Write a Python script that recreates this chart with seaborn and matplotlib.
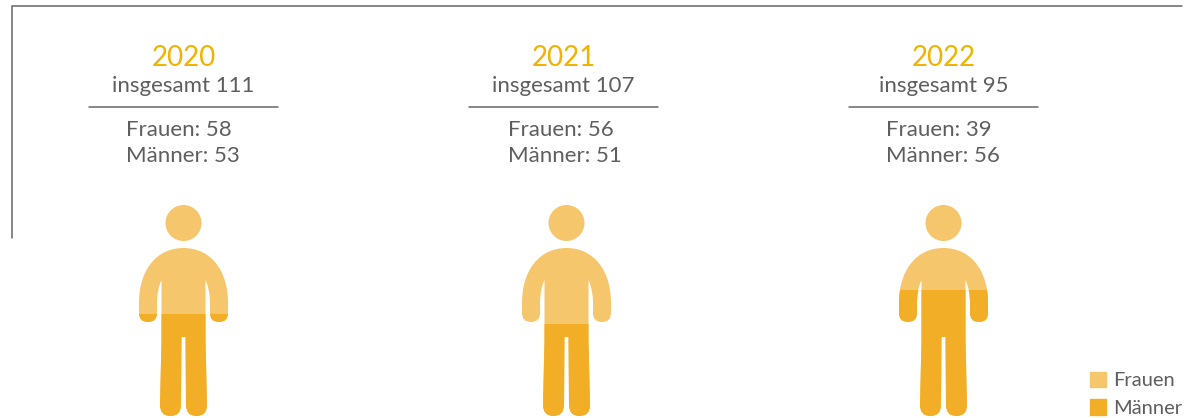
import matplotlib
matplotlib.use("Agg")
import matplotlib.pyplot as plt
from matplotlib.path import Path
from matplotlib.patches import Patch
import pandas as pd
import seaborn as sns

years = ["2020", "2021", "2022"]
totals = [111, 107, 95]
women = [58, 56, 39]
men = [53, 51, 56]
# height of the darker fill (% of figure height)
men_fill_pct = [48.3, 43.6, 59.7]
full_pct = [100, 100, 100]

centers = [183.5, 566.5, 943.5]
text_centers = [183.5, 563.5, 943.5]
text_lefts = [126, 508, 886]
W, H = 1198, 418
TOP, BOTTOM = 205, 416
C_F, C_M, C_Y, C_T, C_L = "#F5C66B", "#F3AE27", "#F2B200", "#5E5E5E", "#666666"

sns.set_theme(style="white")
plt.rcParams["font.family"] = ["Lato", "DejaVu Sans"]

fig = plt.figure(figsize=(W / 100, H / 100), dpi=100, facecolor="white")
bg = fig.add_axes([0, 0, 1, 1])
bg.set_xlim(0, W)
bg.set_ylim(H, 0)
bg.axis("off")


def person(cx):
    half = [
        (Path.MOVETO, (0, 248)),
        (Path.CURVE4, (-27, 248)), (Path.CURVE4, (-44.5, 270)), (Path.CURVE4, (-44.5, 303)),
        (Path.LINETO, (-44.5, 313)),
        (Path.CURVE3, (-44.5, 322)), (Path.CURVE3, (-35.5, 322)),
        (Path.CURVE3, (-26.5, 322)), (Path.CURVE3, (-26.5, 313)),
        (Path.LINETO, (-26.5, 303)),
        (Path.CURVE3, (-26.5, 290)), (Path.CURVE3, (-22, 280)),
        (Path.LINETO, (-22, 340)),
        (Path.LINETO, (-23.5, 405)),
        (Path.CURVE3, (-23.5, 416)), (Path.CURVE3, (-13, 416)),
        (Path.CURVE3, (-2.5, 416)), (Path.CURVE3, (-2.5, 405)),
        (Path.LINETO, (-2, 337)),
        (Path.LINETO, (0, 337)),
    ]
    codes = [c for c, _ in half]
    verts = [(cx + p[0], p[1]) for _, p in half]
    rev = half[::-1]
    for i in range(1, len(rev)):
        code = half[len(half) - i][0]
        codes.append(code)
        verts.append((cx - rev[i][1][0], rev[i][1][1]))
    codes.append(Path.CLOSEPOLY)
    verts.append((cx, 248))
    head = Path.circle((cx, 223), 18)
    return Path.make_compound_path(Path(verts, codes), head)


bg.plot([12, 12, 1182], [238, 6, 6], color=C_L, lw=1.1, solid_joinstyle="miter")

df = pd.DataFrame({"Jahr": years, "Gesamt": full_pct, "Maenner": men_fill_pct})

for i, year in enumerate(years):
    tc, tl = text_centers[i], text_lefts[i]
    bg.text(tc, 66, year, color=C_Y, fontsize=20, ha="center", va="baseline")
    bg.text(tc, 92, f"insgesamt {totals[i]}", color=C_T, fontsize=16, ha="center", va="baseline")
    bg.plot([tc - 94.5, tc + 94.5], [107, 107], color=C_L, lw=1.1)
    bg.text(tl, 136, f"Frauen: {women[i]}", color=C_T, fontsize=16, ha="left", va="baseline")
    bg.text(tl, 162, f"Männer: {men[i]}", color=C_T, fontsize=16, ha="left", va="baseline")

    cx = centers[i]
    ax = fig.add_axes([(cx - 50) / W, (H - BOTTOM - 2) / H, 100 / W, (BOTTOM - TOP + 4) / H])
    row = df.iloc[[i]]
    sns.barplot(data=row, x="Jahr", y="Gesamt", color=C_F, saturation=1, width=1, linewidth=0, ax=ax)
    sns.barplot(data=row, x="Jahr", y="Maenner", color=C_M, saturation=1, width=1, linewidth=0, ax=ax)
    # value axis: 0 at the feet, 100 at the top of the head, with 2 px spare each way
    pad = 2 / (BOTTOM - TOP) * 100
    ax.set_ylim(-pad, 100 + pad)
    ax.set_xlim(-0.5, 0.5)
    ax.axis("off")
    ax.patch.set_alpha(0)
    clip = person(cx)
    for p in ax.patches:
        p.set_clip_path(clip, bg.transData)

bg.legend(
    handles=[Patch(color=C_F, label="Frauen"), Patch(color=C_M, label="Männer")],
    loc="lower left", bbox_to_anchor=(1090, 417), bbox_transform=bg.transData,
    frameon=False, labelcolor=C_T, borderpad=0, borderaxespad=0,
    handlelength=0.8, handleheight=0.8, handletextpad=0.33, labelspacing=0.5,
    prop={"size": 14.5},
)

fig.savefig("out.png", dpi=100, facecolor="white")
